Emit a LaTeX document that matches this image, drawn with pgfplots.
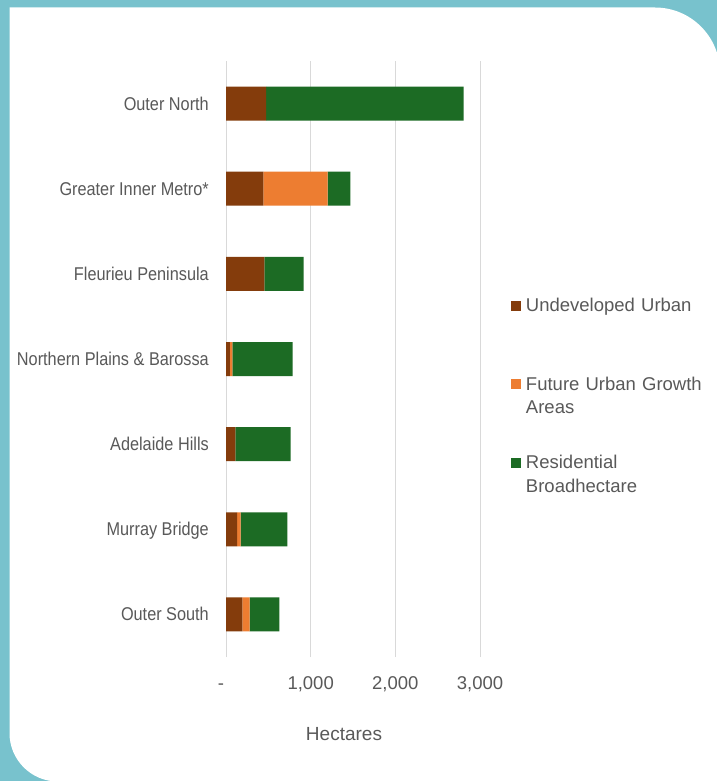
\documentclass[border=0pt]{standalone}
\usepackage{pgfplots}
\usepackage{pgfplotstable}
\pgfplotsset{compat=1.18}
\usepackage{fontspec}
\setmainfont{Liberation Sans}
\newfontfamily\catfont[FakeStretch=0.88]{Liberation Sans}
\definecolor{frameteal}{HTML}{78C2CD}
\definecolor{txt}{HTML}{595959}
\definecolor{uu}{HTML}{843C0C}
\definecolor{fuga}{HTML}{ED7D31}
\definecolor{rb}{HTML}{1C6B24}
\definecolor{gridc}{HTML}{D9D9D9}

\pgfplotstableread{
y uu fuga rb
6 475 0 2331
5 441 760 267
4 452 0 465
3 47 28 712
2 110 0 654
1 130 43 551
0 193 87 350
}\datatable

\begin{document}
\begin{tikzpicture}
\path[use as bounding box] (0pt,0pt) rectangle (717pt,-781pt);
\clip (0pt,0pt) rectangle (717pt,-781pt);
\fill[frameteal] (0pt,0pt) rectangle (717pt,-781pt);
\fill[white] (9.5pt,-7.5pt) -- (655pt,-7.5pt) arc[start angle=90,end angle=0,radius=65pt]
  -- (720pt,-781.5pt) -- (57.9pt,-781.5pt) arc[start angle=270,end angle=180,radius=48.4pt] -- cycle;
\begin{axis}[
  at={(226pt,-657pt)}, anchor=south west,
  scale only axis, width=254pt, height=596pt,
  xbar stacked, bar width=34pt,
  xmin=0, xmax=3000, ymin=-0.5, ymax=6.5,
  xtick={0,1000,2000,3000},
  xticklabels={{-\hspace*{10pt}},{1,000},{2,000},{3,000}},
  ytick={0,1,2,3,4,5,6},
  yticklabels={Outer South,Murray Bridge,Adelaide Hills,{Northern Plains \& Barossa},Fleurieu Peninsula,{Greater Inner Metro*},Outer North},
  /pgf/number format/assume math mode=true,
  axis line style={draw=none},
  major tick style={draw=none},
  xmajorgrids,
  major grid style={gridc, line width=1pt},
  xticklabel style={anchor=base, inner sep=0pt, yshift=-32pt, font=\fontsize{18.5}{22}\selectfont, text=txt},
  yticklabel style={anchor=base east, inner sep=0pt, xshift=-17pt, yshift=-6.5pt, font=\catfont\fontsize{18.5}{22}\selectfont, text=txt},
  xlabel={Hectares},
  xlabel style={at={(axis description cs:0.4646,0)}, anchor=base, inner sep=0pt, yshift=-83pt, font=\fontsize{19}{22}\selectfont, text=txt},
  legend style={at={(1.122,0.6065)}, anchor=north west, draw=none, fill=none, inner sep=0pt, outer sep=0pt,
    row sep=31.5pt, column sep=5pt, cells={anchor=base west},
    nodes={inner sep=0pt, text depth={}, text width=190pt, align=left, font=\fontsize{18.5}{23.5}\selectfont, text=txt}},
  legend image code/.code={\fill[#1] (0pt,1pt) rectangle (10pt,11pt);},
]
\addplot[fill=uu, draw=none] table[x=uu, y=y]{\datatable};
\addlegendentry{\strut Undeveloped Urban\\\strut}
\addplot[fill=fuga, draw=none] table[x=fuga, y=y]{\datatable};
\addlegendentry{\strut Future Urban Growth\\\strut Areas}
\addplot[fill=rb, draw=none] table[x=rb, y=y]{\datatable};
\addlegendentry{\strut Residential\\\strut Broadhectare}
\end{axis}
\end{tikzpicture}
\end{document}
